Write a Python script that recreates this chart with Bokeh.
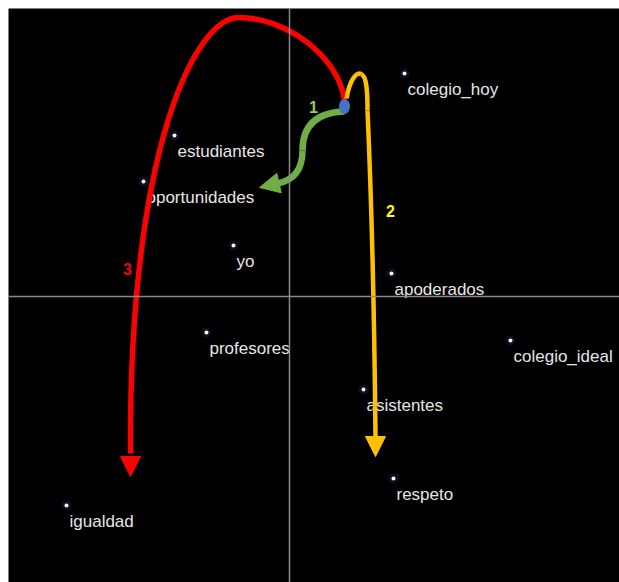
from bokeh.plotting import figure
from bokeh.models import Range1d, Span, Arrow, NormalHead, ColumnDataSource
from bokeh.core.properties import value
from bokeh.embed import file_html
from bokeh.resources import INLINE

# --- data: correspondence-map terms (two factor coordinates) ---
terms = ["colegio_hoy", "estudiantes", "oportunidades", "yo", "apoderados",
         "profesores", "colegio_ideal", "asistentes", "respeto", "igualdad"]
dim1 = [1.15, -1.15, -1.46, -0.56, 1.02, -0.83, 2.21, 0.74, 1.04, -2.23]
dim2 = [2.23, 1.61, 1.15, 0.51, 0.23, -0.36, -0.44, -0.93, -1.82, -2.09]

# --- annotation paths (cubic bezier segments, data units) ---
red_x0 = [0.55, -0.51]; red_y0 = [1.96, 2.79]
red_cx0 = [0.49, -0.94]; red_cy0 = [2.41, 2.79]
red_cx1 = [-0.04, -1.61]; red_cy1 = [2.79, 1.46]
red_x1 = [-0.51, -1.59]; red_y1 = [2.79, -1.57]
red_tip = (-1.59, -1.80)

yel_x0 = [0.57, 0.72, 0.78]; yel_y0 = [1.98, 2.22, 1.86]
yel_cx0 = [0.60, 0.77, 0.82]; yel_cy0 = [2.16, 2.20, 0.96]
yel_cx1 = [0.67, 0.78, 0.85]; yel_cy1 = [2.26, 2.06, -0.34]
yel_x1 = [0.72, 0.78, 0.86]; yel_y1 = [2.22, 1.86, -1.41]
yel_tip = (0.86, -1.60)

grn_x0 = [0.55, 0.13]; grn_y0 = [1.85, 1.46]
grn_cx0 = [0.26, 0.13]; grn_cy0 = [1.84, 1.26]
grn_cx1 = [0.13, 0.03]; grn_cy1 = [1.70, 1.16]
grn_x1 = [0.13, -0.12]; grn_y1 = [1.46, 1.13]
grn_tip = (-0.30, 1.09)

origin = (0.55, 1.90)
num_labels = ["1", "2", "3"]
num_x = [0.24, 1.01, -1.62]
num_y = [1.90, 0.86, 0.28]
num_colors = ["#92d050", "#ffff00", "#ff0000"]

p = figure(width=619, height=582, output_backend="svg", toolbar_location=None,
           x_range=Range1d(-2.81, 3.30), y_range=Range1d(-2.86, 2.88),
           min_border_left=8, min_border_top=8, min_border_right=0, min_border_bottom=0,
           background_fill_color="black", border_fill_color="white")
p.axis.visible = False
p.grid.visible = False
p.outline_line_color = None

p.add_layout(Span(location=0, dimension="height", line_color="#8a8a8a", line_width=1.5))
p.add_layout(Span(location=0, dimension="width", line_color="#8a8a8a", line_width=1.5))

# points with faint halo
p.scatter(dim1, dim2, size=10, color="#1c2040", alpha=0.5, line_color=None)
p.scatter(dim1, dim2, size=4, color="white", line_color=None)
src = ColumnDataSource(dict(x=dim1, y=dim2, t=terms))
p.text("x", "y", text="t", source=src, x_offset=3, y_offset=16,
       text_baseline="middle", text_align="left", text_color="#e6e6e6",
       text_font=value("Liberation Sans"), text_font_size="17px")

# curves
p.bezier(x0=red_x0, y0=red_y0, x1=red_x1, y1=red_y1, cx0=red_cx0, cy0=red_cy0,
         cx1=red_cx1, cy1=red_cy1, line_color="#ff0000", line_width=5.5)
p.add_layout(Arrow(x_start=red_x1[-1], y_start=red_y1[-1] + 0.05, x_end=red_tip[0], y_end=red_tip[1],
                   line_alpha=0, end=NormalHead(size=20, fill_color="#ff0000", line_color="#ff0000")))

p.bezier(x0=yel_x0, y0=yel_y0, x1=yel_x1, y1=yel_y1, cx0=yel_cx0, cy0=yel_cy0,
         cx1=yel_cx1, cy1=yel_cy1, line_color="#ffc000", line_width=4.5)
p.add_layout(Arrow(x_start=yel_x1[-1], y_start=yel_y1[-1] + 0.05, x_end=yel_tip[0], y_end=yel_tip[1],
                   line_alpha=0, end=NormalHead(size=20, fill_color="#ffc000", line_color="#ffc000")))

p.bezier(x0=grn_x0, y0=grn_y0, x1=grn_x1, y1=grn_y1, cx0=grn_cx0, cy0=grn_cy0,
         cx1=grn_cx1, cy1=grn_cy1, line_color="#70ad47", line_width=6.5)
p.add_layout(Arrow(x_start=grn_x1[-1] + 0.04, y_start=grn_y1[-1] + 0.01, x_end=grn_tip[0], y_end=grn_tip[1],
                   line_alpha=0, end=NormalHead(size=20, fill_color="#70ad47", line_color="#70ad47")))

p.ellipse(x=[origin[0]], y=[origin[1]], width=11, height=15, width_units="screen",
          height_units="screen", fill_color="#4472c4", line_color=None)

nsrc = ColumnDataSource(dict(x=num_x, y=num_y, t=num_labels, c=num_colors))
p.text("x", "y", text="t", text_color="c", source=nsrc, text_align="center",
       text_baseline="middle", text_font=value("Liberation Sans"),
       text_font_size="16px", text_font_style="bold")

open("out.html", "w").write(file_html(p, INLINE))
